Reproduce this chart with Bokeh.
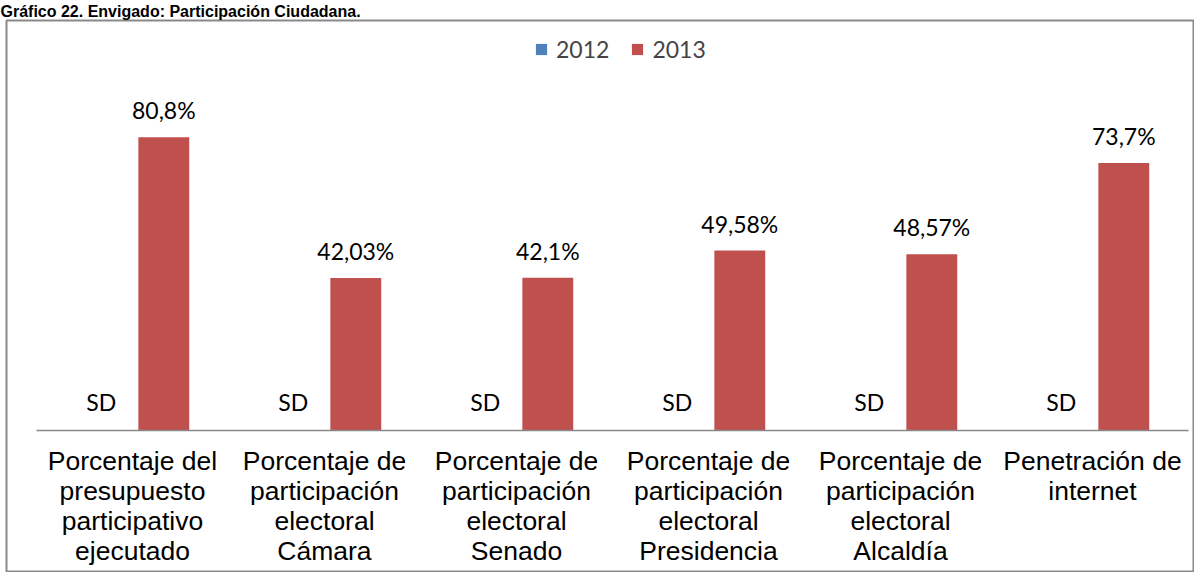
import numpy as np
from bokeh.plotting import figure
from bokeh.models import Range1d, FixedTicker, Legend, LegendItem
from bokeh.core.properties import value
from bokeh.embed import file_html
from bokeh.resources import INLINE

title_text = "Gráfico 22. Envigado: Participación Ciudadana."
categories = [
    "Porcentaje del\npresupuesto\nparticipativo\nejecutado",
    "Porcentaje de\nparticipación\nelectoral\nCámara",
    "Porcentaje de\nparticipación\nelectoral\nSenado",
    "Porcentaje de\nparticipación\nelectoral\nPresidencia",
    "Porcentaje de\nparticipación\nelectoral\nAlcaldía",
    "Penetración de\ninternet",
]
series_names = ["2012", "2013"]
values_2012 = [0, 0, 0, 0, 0, 0]          # sin dato (SD)
labels_2012 = ["SD", "SD", "SD", "SD", "SD", "SD"]
values_2013 = [80.8, 42.03, 42.1, 49.58, 48.57, 73.7]
labels_2013 = ["80,8%", "42,03%", "42,1%", "49,58%", "48,57%", "73,7%"]

# layout constants
n = len(categories)
idx = np.arange(n)
centers = idx + 0.5
bar_w = 0.265
off = 0.163
RED = "#C0504D"
BLUE = "#4F81BD"
GRAY = "#898989"

p = figure(width=1194, height=572, output_backend="svg", toolbar_location=None,
           x_range=Range1d(-0.15625, 6.03125), y_range=Range1d(-39.16, 113.0),
           min_border=0, min_border_left=6)
p.background_fill_color = "white"
p.border_fill_color = "white"
p.outline_line_color = GRAY
p.outline_line_width = 2

p.title.text = title_text
p.title.text_font = "Liberation Sans"
p.title.text_font_size = "16px"
p.title.text_font_style = "bold"
p.title.text_color = "black"
p.title.standoff = 1
p.title.offset = -6

r12 = p.vbar(x=centers - off, top=values_2012, width=bar_w, fill_color=BLUE, line_color=None)
r13 = p.vbar(x=centers + off, top=values_2013, width=bar_w, fill_color=RED, line_color=None)

p.text(x=centers + off, y=values_2013, text=labels_2013, text_align="center",
       text_baseline="alphabetic", y_offset=-27, text_font=value("Lato"),
       text_font_size="23px", text_color="black")
p.text(x=centers - off, y=values_2012, text=labels_2012, text_align="center",
       text_baseline="alphabetic", y_offset=-28, text_font=value("Lato"),
       text_font_size="23px", text_color="black")

ax = p.xaxis[0]
ax.fixed_location = 0
ax.bounds = (0, n)
ax.ticker = FixedTicker(ticks=list(centers))
ax.major_label_overrides = {float(c): lab for c, lab in zip(centers, categories)}
ax.axis_line_color = GRAY
ax.axis_line_width = 1.5
ax.major_tick_line_color = None
ax.minor_tick_line_color = None
ax.major_label_text_font = "Liberation Sans"
ax.major_label_text_font_size = "26.5px"
ax.major_label_text_color = "black"
ax.major_label_standoff = 10
ax.major_label_text_line_height = 1.0
p.yaxis.visible = False
p.xgrid.visible = False
p.ygrid.visible = False

legend = Legend(items=[LegendItem(label=series_names[0], renderers=[r12]),
                       LegendItem(label=series_names[1], renderers=[r13])],
                location=(528, 509), orientation="horizontal")
legend.label_text_font = "Lato"
legend.label_text_font_size = "23px"
legend.glyph_width = 14
legend.glyph_height = 14
legend.label_standoff = 8
legend.spacing = 21
legend.padding = 0
legend.margin = 0
legend.border_line_color = None
legend.background_fill_alpha = 0
p.add_layout(legend)

open("out.html", "w").write(file_html(p, INLINE))
